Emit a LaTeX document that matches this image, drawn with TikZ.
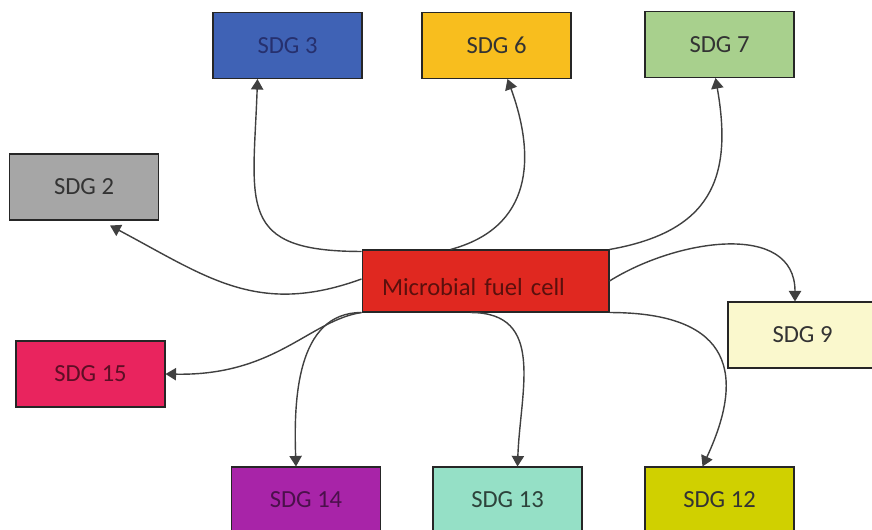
\documentclass[tikz,border=0pt]{standalone}
\usepackage{fontspec}
\setmainfont{Carlito}
\usetikzlibrary{arrows.meta, positioning}

\definecolor{sdgblue}{RGB}{63,98,181}
\definecolor{sdgyellow}{RGB}{248,190,30}
\definecolor{sdggreen}{RGB}{168,208,141}
\definecolor{sdggray}{RGB}{166,166,166}
\definecolor{mfcred}{RGB}{224,40,32}
\definecolor{sdgcream}{RGB}{250,248,205}
\definecolor{sdgpink}{RGB}{233,36,94}
\definecolor{sdgpurple}{RGB}{168,36,168}
\definecolor{sdgteal}{RGB}{149,224,198}
\definecolor{sdgolive}{RGB}{208,208,0}
\definecolor{navytext}{RGB}{38,48,110}

\tikzset{
  sdgbox/.style = {draw = black!85, line width = .6pt, minimum width = 2.98cm,
                   minimum height = 1.32cm, inner sep = 0pt, text = black!80,
                   font = \fontsize{14}{16}\selectfont},
  link/.style   = {draw = black!75, line width = .8pt,
                   -{Triangle[length=6pt, width=7pt]}}
}

\begin{document}
\begin{tikzpicture}[x=0.02cm, y=-0.02cm]

\useasboundingbox (0,0) rectangle (872,530);
\clip (0,0) rectangle (872,530);

% centre
\node (mfc) at (485.5,281) [sdgbox, fill = mfcred, minimum width = 4.94cm, minimum height = 1.24cm,
  text width = 4.14cm, inner xsep = .4cm, align = left, text = black!60!mfcred]
  {\raisebox{-.12cm}[\height][\depth]{Microbial fuel cell}};

% goals, top row
\node (sdg3) at (287.5,45.5) [sdgbox, fill = sdgblue, text = navytext] {SDG 3};
\node (sdg6) at (496.5,45.5) [sdgbox, fill = sdgyellow] {SDG 6};
\node (sdg7) at (719.5,44.5) [sdgbox, fill = sdggreen] {SDG 7};

% goals, sides
\node (sdg2)  at (84,187)   [sdgbox, fill = sdggray] {SDG 2};
\node (sdg9)  at (802.5,335) [sdgbox, fill = sdgcream] {SDG 9};
\node (sdg15) at (90.5,374) [sdgbox, fill = sdgpink, text = black!60!sdgpink] {SDG 15};

% goals, bottom row
\node (sdg14) at (306,500)  [sdgbox, fill = sdgpurple, text = black!55!sdgpurple] {SDG 14};
\node (sdg13) at (507.5,500) [sdgbox, fill = sdgteal, text = black!70!sdgteal] {SDG 13};
\node (sdg12) at (719.5,500) [sdgbox, fill = sdgolive, text = black!80] {SDG 12};

% links
\draw [link] ([yshift=-.04cm]mfc.north west) to [out=180, in=-92, looseness=1.6] ([xshift=-.6cm]sdg3.south);
\draw [link] ([xshift=-.7cm]mfc.north) to [out=15, in=-70, looseness=1.2] ([xshift=.22cm]sdg6.south);
\draw [link] (mfc.north east) to [out=10, in=-80, looseness=1.3] ([xshift=-.08cm]sdg7.south);
\draw [link] ([yshift=.04cm]mfc.west) to [out=200, in=-28, looseness=1.1] ([xshift=.52cm,yshift=-.1cm]sdg2.south);
\draw [link] (mfc.east) to [out=32, in=90, looseness=1.1] ([xshift=-.15cm]sdg9.north);
\draw [link] (mfc.south west) .. controls +(-52,8) and +(110,2) .. (sdg15.east);
\draw [link] (mfc.south west) to [out=180, in=92, looseness=1] ([xshift=-.2cm]sdg14.north);
\draw [link] ([xshift=-.3cm]mfc.south) to [out=0, in=88, looseness=1.2] ([xshift=.2cm]sdg13.north);
\draw [link] (mfc.south east) to [out=0, in=65, looseness=1.6] ([xshift=-.34cm]sdg12.north);

\end{tikzpicture}
\end{document}
